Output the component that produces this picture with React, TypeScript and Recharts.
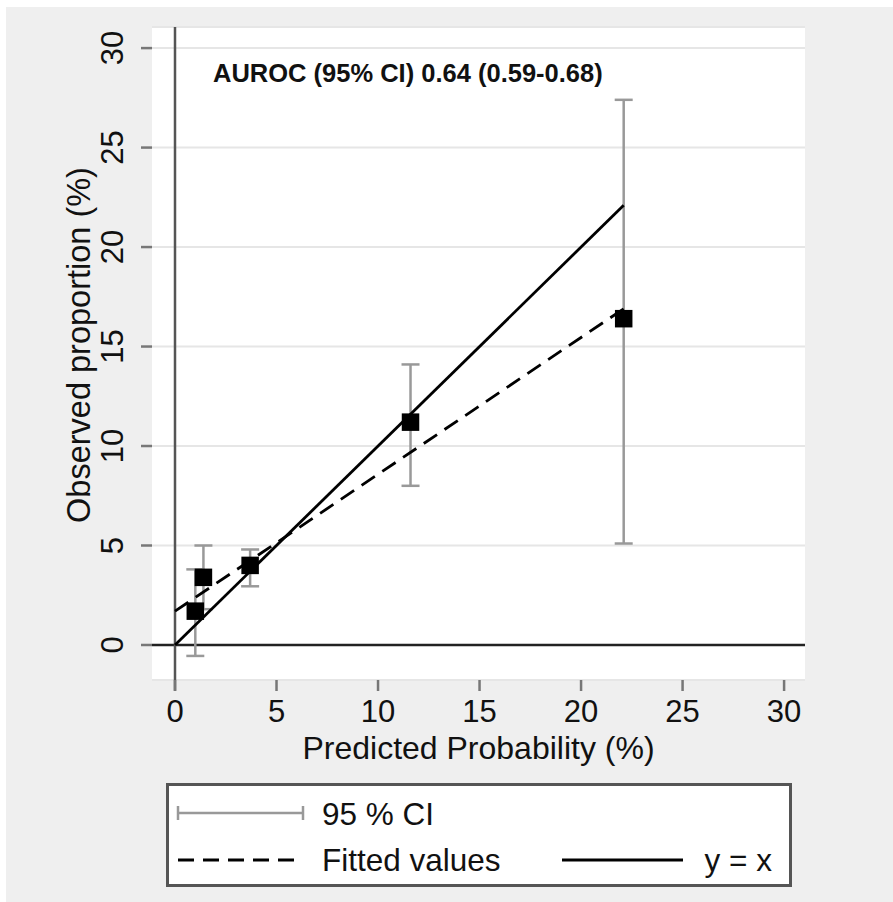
import React from 'react';
import {
  ScatterChart,
  Scatter,
  XAxis,
  YAxis,
  CartesianGrid,
  ReferenceLine,
  ErrorBar,
  Customized,
} from 'recharts';

// ---- data ----
const groupPredicted = [1.0, 1.4, 3.7, 11.6, 22.1];
const groupObserved = [1.7, 3.4, 4.0, 11.2, 16.4];
const ciLower = [-0.55, 1.8, 2.95, 8.0, 5.1];
const ciUpper = [3.8, 5.0, 4.8, 14.1, 27.4];
const fittedX = [0, 22.1];
const fittedY = [1.7, 16.9];
const identityX = [0, 22.1];
const axisTicks = [0, 5, 10, 15, 20, 25, 30];
const aurocText = 'AUROC (95% CI) 0.64 (0.59-0.68)';
const xTitle = 'Predicted Probability (%)';
const yTitle = 'Observed proportion (%)';
const legendLabels = ['95 % CI', 'Fitted values', 'y = x'];

const pointData = groupPredicted.map((x, i) => ({
  x,
  y: groupObserved[i],
  err: [groupObserved[i] - ciLower[i], ciUpper[i] - groupObserved[i]],
}));
const fittedData = fittedX.map((x, i) => ({ x, y: fittedY[i] }));
const identityData = identityX.map((x) => ({ x, y: x }));

const FONT = '"Liberation Sans", Arial, Helvetica, sans-serif';
const TXT = '#111';

const W = 893;
const H = 902;
const PLOT_L = 152;
const PLOT_R = 805;
const PLOT_T = 27;
const PLOT_B = 680;
const Y_AXIS_W = 50;
const X_AXIS_H = 40;

const Nothing = () => <g />;

const Square = (props: any) => {
  const { cx, cy } = props;
  const s = 17.5;
  return <rect x={cx - s / 2} y={cy - s / 2} width={s} height={s} fill="#000" />;
};

const YTick = (props: any) => {
  const { x, y, payload } = props;
  return (
    <text
      x={x}
      y={y}
      transform={`rotate(-90 ${x} ${y})`}
      textAnchor="middle"
      dominantBaseline="central"
      fontSize={31}
      fontFamily={FONT}
      fill={TXT}
    >
      {payload.value}
    </text>
  );
};

const XTick = (props: any) => {
  const { x, y, payload } = props;
  return (
    <text x={x} y={y} dy="0.71em" textAnchor="middle" fontSize={31} fontFamily={FONT} fill={TXT}>
      {payload.value}
    </text>
  );
};

const Texts = () => (
  <g fontFamily={FONT} fill={TXT}>
    <text x={213} y={82} fontSize={25.5} fontWeight="bold">
      {aurocText}
    </text>
    <text x={(PLOT_L + PLOT_R) / 2} y={759} fontSize={32} textAnchor="middle">
      {xTitle}
    </text>
    <text x={90} y={345} fontSize={32.5} textAnchor="middle" transform="rotate(-90 90 345)">
      {yTitle}
    </text>
  </g>
);

const LegendBox = () => (
  <svg width={626} height={105} style={{ display: 'block' }}>
    <rect x={1.5} y={1.5} width={623} height={101} fill="#fff" stroke="#555" strokeWidth={3} />
    <g stroke="#999" strokeWidth={2.5}>
      <line x1={12} y1={30} x2={137} y2={30} />
      <line x1={12} y1={23} x2={12} y2={37} />
      <line x1={137} y1={23} x2={137} y2={37} />
    </g>
    <line x1={12} y1={77} x2={137} y2={77} stroke="#000" strokeWidth={2.8} strokeDasharray="16 9" />
    <line x1={396} y1={77} x2={517} y2={77} stroke="#000" strokeWidth={2.8} />
    <g fontFamily={FONT} fontSize={31.5} fill={TXT}>
      <text x={156} y={41.5}>{legendLabels[0]}</text>
      <text x={156} y={88}>{legendLabels[1]}</text>
      <text x={606} y={88} textAnchor="end">{legendLabels[2]}</text>
    </g>
  </svg>
);

export default function App() {
  return (
    <div style={{ position: 'absolute', left: 0, top: 0, width: W, height: H, background: '#fff' }}>
      <div style={{ position: 'absolute', left: 6, top: 7, right: 0, bottom: 0, background: '#efefef' }} />
      <div style={{ position: 'absolute', left: 0, top: 0 }}>
        <ScatterChart
          width={W}
          height={H}
          margin={{
            top: PLOT_T,
            right: W - PLOT_R,
            bottom: H - PLOT_B - X_AXIS_H,
            left: PLOT_L - Y_AXIS_W,
          }}
        >
          <CartesianGrid horizontal vertical={false} fill="#fff" stroke="#e6e6e6" strokeWidth={2} />
          <XAxis
            type="number"
            dataKey="x"
            domain={[-1.133, 31.03]}
            ticks={axisTicks}
            allowDataOverflow
            height={X_AXIS_H}
            axisLine={false}
            tickLine={{ stroke: '#777', strokeWidth: 2.5 }}
            tickSize={11}
            tickMargin={9}
            tick={<XTick />}
            interval={0}
          />
          <YAxis
            type="number"
            dataKey="y"
            domain={[-1.76, 31.06]}
            ticks={axisTicks}
            allowDataOverflow
            width={Y_AXIS_W}
            axisLine={false}
            tickLine={{ stroke: '#777', strokeWidth: 2.5 }}
            tickSize={11}
            tickMargin={28}
            tick={<YTick />}
            interval={0}
          />
          <ReferenceLine y={0} stroke="#222" strokeWidth={2.5} />
          <ReferenceLine
            segment={[
              { x: 0, y: 31.06 },
              { x: 0, y: -2.3 },
            ]}
            stroke="#555"
            strokeWidth={2.5}
            ifOverflow="visible"
          />
          <Scatter data={pointData} shape={<Nothing />} isAnimationActive={false} name="ci" legendType="none">
            <ErrorBar dataKey="err" direction="y" width={9} stroke="#999" strokeWidth={2.5} isAnimationActive={false} />
          </Scatter>
          <Scatter
            data={fittedData}
            line={{ stroke: '#000', strokeWidth: 2.8, strokeDasharray: '16 9' }}
            shape={<Nothing />}
            isAnimationActive={false}
            name="fitted"
            legendType="none"
          />
          <Scatter
            data={identityData}
            line={{ stroke: '#000', strokeWidth: 2.8 }}
            shape={<Nothing />}
            isAnimationActive={false}
            name="identity"
            legendType="none"
          />
          <Scatter data={pointData} shape={<Square />} isAnimationActive={false} name="observed" legendType="none" />
          <Customized component={<Texts />} />
        </ScatterChart>
      </div>
      <div style={{ position: 'absolute', left: 166, top: 783 }}>
        <LegendBox />
      </div>
    </div>
  );
}
